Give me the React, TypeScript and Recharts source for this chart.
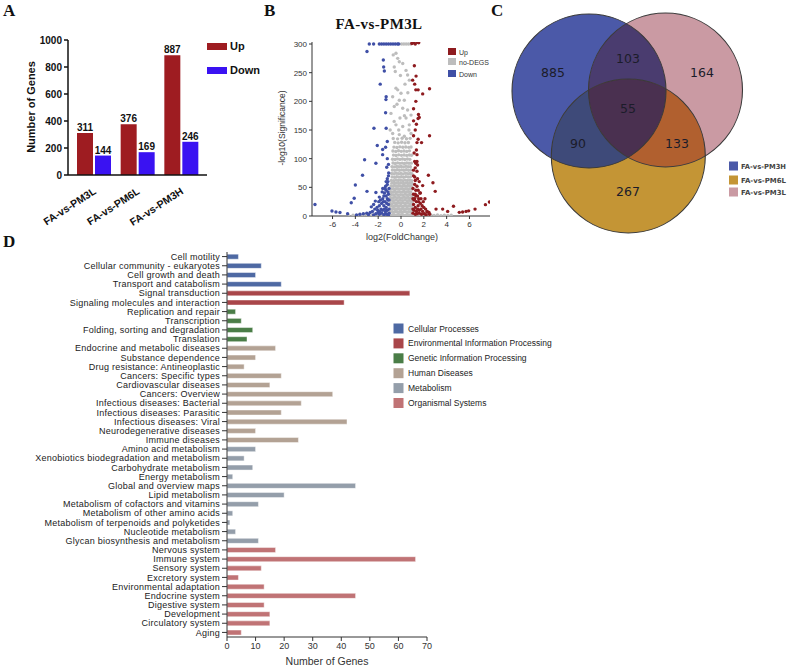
import React from 'react';
import { BarChart, Bar, XAxis, YAxis, LabelList, ScatterChart, Scatter, Cell } from 'recharts';

// ---------- Panel A data ----------
const groupNames = ['FA-vs-PM3L', 'FA-vs-PM6L', 'FA-vs-PM3H'];
const upCounts = [311, 376, 887];
const downCounts = [144, 169, 246];
const countTicks = [0, 200, 400, 600, 800, 1000];

// ---------- Panel B data (log2FC, -log10 p) ----------
const volcanoDown: [number, number][] = [
  [-2.78, 300], [-2.4, 300], [-1.9, 300], [-1.7, 300], [-1.5, 300], [-1.3, 300], [-1.1, 300], [-0.9, 300], [-0.7, 300], [-0.5, 300], [-0.3, 300], [-0.2, 300],
  [-2.98, 287], [-1.55, 272], [-1.52, 260], [-1.46, 253], [-1.82, 230], [-1.3, 208], [-1.32, 203], [-1.35, 180], [-2.37, 153], [-1.3, 153],
  [-2.08, 123], [-1.61, 116], [-1.61, 107], [-3.19, 98], [-2.2, 92], [-3.37, 71], [-4.0, 54], [-2.98, 43], [-2.2, 41], [-4.1, 31], [-4.36, 23],
  [-7.54, 20], [-6.05, 8.7], [-5.7, 7], [-5.35, 6], [-4.68, 4],
  [-1.05, 5], [-1.2, 10], [-1.3, 15], [-1.1, 20], [-1.4, 25], [-1.2, 30], [-1.5, 35], [-1.6, 30], [-1.8, 28], [-1.1, 38], [-1.3, 45], [-1.2, 55],
  [-1.15, 60], [-1.05, 48], [-1.7, 22], [-1.9, 18], [-2.1, 15], [-2.3, 12], [-2.5, 8], [-2.7, 6], [-3.0, 5], [-3.3, 4], [-2.0, 6], [-1.6, 10],
  [-1.4, 4], [-1.9, 3], [-2.2, 4], [-1.5, 18], [-1.25, 3], [-1.35, 8], [-1.75, 12], [-1.45, 12], [-1.05, 12], [-1.15, 28], [-1.3, 35], [-1.55, 25],
  [-2.4, 20], [-2.6, 16], [-1.95, 25], [-1.65, 42], [-1.1, 70], [-1.2, 100], [-1.25, 85], [-1.08, 75], [-1.85, 8], [-2.05, 10], [-1.7, 5],
  [-1.15, 42], [-1.4, 48], [-1.05, 28], [-1.25, 22], [-3.6, 3], [-3.9, 2], [-2.85, 2.5], [-1.5, 2], [-2.4, 2], [-1.1, 1], [-1.35, 52],
  [-1.2, 65], [-1.1, 90], [-1.35, 120], [-1.2, 130], [-1.6, 48], [-1.45, 40], [-1.9, 33], [-2.25, 26], [-1.3, 60],
];

const volcanoUp: [number, number][] = [
  [0.95, 301], [1.1, 302], [1.25, 300], [1.4, 303], [1.55, 302],
  [1.17, 262], [1.32, 244], [1.02, 237], [2.5, 222], [1.3, 220], [1.5, 220], [1.9, 213], [1.1, 187], [1.53, 177], [1.6, 172], [1.1, 166],
  [2.5, 140], [1.5, 134], [1.4, 128], [1.8, 128], [1.4, 107], [1.2, 95], [1.3, 92], [1.45, 89], [1.25, 84], [1.4, 78], [2.4, 71], [1.2, 68],
  [1.6, 60], [2.8, 58], [3.0, 43], [1.9, 53],
  [2.28, 7], [2.45, 6], [3.07, 12], [3.65, 12], [4.09, 8], [4.6, 17], [5.11, 6.4], [5.4, 7], [5.7, 8], [5.93, 9], [6.49, 12], [7.4, 19.8], [7.75, 24.4],
  [1.05, 5], [1.15, 10], [1.25, 15], [1.1, 20], [1.35, 25], [1.2, 30], [1.45, 35], [1.55, 30], [1.7, 22], [1.1, 38], [1.3, 45], [1.2, 55],
  [1.05, 48], [1.85, 18], [2.0, 15], [2.15, 12], [2.3, 8], [1.6, 10], [1.4, 4], [1.8, 3], [2.05, 4], [1.5, 18], [1.25, 3], [1.35, 8],
  [1.75, 12], [1.45, 12], [1.05, 12], [1.15, 28], [1.3, 35], [1.55, 25], [1.95, 25], [1.65, 40], [1.1, 70], [1.25, 62], [1.1, 80],
  [1.5, 45], [1.4, 52], [1.6, 5], [1.9, 8], [2.2, 2], [2.5, 3], [1.05, 30], [1.25, 38], [1.75, 30], [1.15, 110], [1.35, 115],
  [1.1, 140], [1.25, 150], [1.4, 95], [1.35, 160], [1.5, 170], [1.3, 200], [1.2, 230], [1.7, 40], [2.1, 30], [1.45, 65],
];

const volcanoNoDiff: [number, number][] = [
  [-4.6, 0.8], [-4.2, 1.5], [-3.9, 0.6], [-3.6, 2.1], [-3.3, 1.0], [-3.0, 2.8], [-2.8, 0.7], [-2.5, 1.9], [-2.2, 3.2], [-1.9, 1.1], [-1.6, 2.4],
  [-1.3, 0.9], [-1.1, 3.5], [1.1, 1.4], [1.4, 3.0], [1.7, 0.8], [2.0, 2.2], [2.3, 1.2], [2.6, 2.9], [2.9, 0.9], [3.2, 1.8], [3.5, 0.7],
  [3.8, 1.6], [4.1, 0.9], [4.4, 1.2],
  [-0.97, 2], [-0.78, 1.5], [-0.6, 2.4], [-0.41, 1.2], [-0.22, 2.6], [-0.03, 1.8], [0.16, 2.3], [0.35, 1.1], [0.55, 2.7], [0.74, 1.6], [0.93, 2.2],
  [-0.92, 7.3], [-0.71, 6.5], [-0.52, 7.8], [-0.33, 6.9], [-0.12, 7.5], [0.08, 6.6], [0.27, 7.9], [0.46, 6.8], [0.66, 7.4], [0.86, 6.7], [0.98, 8.1],
  [-0.95, 12.4], [-0.76, 11.6], [-0.57, 12.9], [-0.38, 11.8], [-0.18, 12.6], [0.02, 11.4], [0.21, 12.8], [0.41, 11.9], [0.6, 12.5], [0.8, 11.7], [0.97, 12.2],
  [-0.9, 17.2], [-0.69, 16.5], [-0.49, 17.8], [-0.29, 16.9], [-0.09, 17.4], [0.12, 16.7], [0.31, 17.9], [0.51, 16.6], [0.7, 17.3], [0.9, 16.8],
  [-0.96, 22.1], [-0.77, 21.6], [-0.58, 22.8], [-0.39, 21.9], [-0.2, 22.5], [0.0, 21.7], [0.19, 22.9], [0.39, 21.8], [0.58, 22.4], [0.78, 21.5], [0.96, 22.6],
  [-0.88, 27.3], [-0.67, 26.6], [-0.47, 27.7], [-0.27, 26.8], [-0.07, 27.5], [0.13, 26.9], [0.33, 27.8], [0.53, 26.7], [0.72, 27.2], [0.92, 26.5],
  [-0.94, 32.2], [-0.74, 31.5], [-0.55, 32.7], [-0.35, 31.8], [-0.16, 32.4], [0.04, 31.6], [0.24, 32.8], [0.43, 31.9], [0.63, 32.3], [0.82, 31.7], [0.98, 32.6],
  [-0.86, 37.4], [-0.65, 36.6], [-0.45, 37.8], [-0.25, 36.9], [-0.05, 37.3], [0.15, 36.7], [0.35, 37.9], [0.55, 36.8], [0.75, 37.5], [0.94, 36.6],
  [-0.92, 42.2], [-0.72, 41.6], [-0.52, 42.7], [-0.32, 41.8], [-0.13, 42.5], [0.07, 41.7], [0.27, 42.8], [0.47, 41.9], [0.66, 42.4], [0.86, 41.6],
  [-0.83, 47.3], [-0.62, 46.7], [-0.42, 47.8], [-0.22, 46.9], [-0.02, 47.4], [0.18, 46.6], [0.38, 47.7], [0.58, 46.8], [0.78, 47.2], [0.96, 46.9],
  [-0.88, 52.2], [-0.68, 51.7], [-0.48, 52.6], [-0.28, 51.8], [-0.08, 52.4], [0.12, 51.6], [0.32, 52.7], [0.52, 51.9], [0.71, 52.3], [0.9, 51.8],
  [-0.8, 57.3], [-0.6, 56.7], [-0.4, 57.6], [-0.2, 56.9], [0.0, 57.4], [0.2, 56.8], [0.4, 57.7], [0.6, 56.6], [0.8, 57.2], [0.97, 56.9],
  [-0.85, 62.1], [-0.64, 61.6], [-0.44, 62.7], [-0.24, 61.8], [-0.04, 62.3], [0.16, 61.7], [0.36, 62.6], [0.56, 61.9], [0.76, 62.4], [0.94, 61.6],
  [-0.78, 68.2], [-0.57, 67.5], [-0.37, 68.6], [-0.17, 67.8], [0.03, 68.4], [0.23, 67.6], [0.43, 68.7], [0.63, 67.9], [0.83, 68.3],
  [-0.82, 74.1], [-0.61, 73.6], [-0.41, 74.5], [-0.21, 73.8], [-0.01, 74.3], [0.19, 73.5], [0.39, 74.6], [0.59, 73.9], [0.79, 74.2], [0.95, 73.7],
  [-0.75, 80.3], [-0.54, 79.6], [-0.34, 80.7], [-0.14, 79.9], [0.06, 80.4], [0.26, 79.7], [0.46, 80.6], [0.66, 79.8], [0.86, 80.2],
  [-0.79, 86.2], [-0.58, 85.6], [-0.38, 86.5], [-0.18, 85.8], [0.02, 86.3], [0.22, 85.7], [0.42, 86.6], [0.62, 85.9], [0.82, 86.1],
  [-0.7, 92.4], [-0.5, 91.6], [-0.3, 92.6], [-0.1, 91.8], [0.1, 92.3], [0.3, 91.7], [0.5, 92.5], [0.7, 91.9], [0.9, 92.2],
  [-0.74, 99.1], [-0.52, 98.5], [-0.31, 99.6], [-0.09, 98.7], [0.13, 99.4], [0.34, 98.6], [0.56, 99.5], [0.77, 98.8],
  [-0.66, 106.2], [-0.43, 105.6], [-0.2, 106.7], [0.04, 105.8], [0.27, 106.4], [0.5, 105.7], [0.73, 106.5], [0.92, 105.9],
  [-0.71, 113.3], [-0.46, 112.6], [-0.22, 113.7], [0.02, 112.8], [0.26, 113.4], [0.5, 112.7], [0.74, 113.6],
  [-0.62, 120.2], [-0.36, 119.5], [-0.1, 120.6], [0.16, 119.8], [0.42, 120.4], [0.68, 119.7], [0.88, 120.3],
  [-0.55, 128.4], [-0.25, 127.6], [0.05, 128.7], [0.35, 127.8], [0.65, 128.3],
  [-0.68, 135.2], [-0.3, 134.6], [0.1, 135.7], [0.48, 134.8], [0.8, 135.4],
  [-0.68, 281], [-0.44, 284], [-0.29, 275], [-0.15, 269], [-0.59, 260], [0.15, 266], [-0.5, 252], [0.44, 254], [0.58, 246], [-0.44, 223],
  [-0.29, 220], [0.0, 214], [-0.73, 208], [-0.15, 202], [0.29, 202], [0.73, 237], [-0.59, 191], [0.15, 188], [0.58, 185], [-0.88, 179],
  [-0.09, 171], [0.44, 171], [0.88, 176], [-0.44, 159], [0.15, 156], [0.73, 159], [-0.73, 144], [-0.15, 142], [0.29, 139], [0.88, 144],
  [0.05, 300], [0.25, 300], [0.45, 300], [0.65, 300], [0.85, 300], [0.35, 230], [-0.05, 245], [-0.35, 195], [0.6, 215], [-0.6, 165],
  [0.3, 175], [0.7, 150], [-0.95, 150], [-0.2, 150],
];
const fcTicks = [-6, -4, -2, 0, 2, 4, 6];
const sigTicks = [0, 50, 100, 150, 200, 250, 300];

// ---------- Panel C data ----------
const vennSetNames = ['FA-vs-PM3H', 'FA-vs-PM6L', 'FA-vs-PM3L'];
const vennSetKeys = ['pm3h', 'pm6l', 'pm3l'];
const vennSetColors = ['#4b59a8', '#c49535', '#ca9aa3'];
const vennRegionCounts = [885, 103, 164, 55, 90, 133, 267];

// ---------- Panel D data ----------
const keggTerms = [
  'Cell motility', 'Cellular community - eukaryotes', 'Cell growth and death', 'Transport and catabolism',
  'Signal transduction', 'Signaling molecules and interaction',
  'Replication and repair', 'Transcription', 'Folding, sorting and degradation', 'Translation',
  'Endocrine and metabolic diseases', 'Substance dependence', 'Drug resistance: Antineoplastic', 'Cancers: Specific types',
  'Cardiovascular diseases', 'Cancers: Overview', 'Infectious diseases: Bacterial', 'Infectious diseases: Parasitic',
  'Infectious diseases: Viral', 'Neurodegenerative diseases', 'Immune diseases',
  'Amino acid metabolism', 'Xenobiotics biodegradation and metabolism', 'Carbohydrate metabolism', 'Energy metabolism',
  'Global and overview maps', 'Lipid metabolism', 'Metabolism of cofactors and vitamins', 'Metabolism of other amino acids',
  'Metabolism of terpenoids and polyketides', 'Nucleotide metabolism', 'Glycan biosynthesis and metabolism',
  'Nervous system', 'Immune system', 'Sensory system', 'Excretory system', 'Environmental adaptation', 'Endocrine system',
  'Digestive system', 'Development', 'Circulatory system', 'Aging',
];
const keggCounts = [
  4, 12, 10, 19,
  64, 41,
  3, 5, 9, 7,
  17, 10, 6, 19, 15, 37, 26, 19, 42, 10, 25,
  10, 6, 9, 2, 45, 20, 11, 2, 1, 3, 11,
  17, 66, 12, 4, 13, 45, 13, 15, 15, 5,
];
const keggClassIndex = [
  0, 0, 0, 0,
  1, 1,
  2, 2, 2, 2,
  3, 3, 3, 3, 3, 3, 3, 3, 3, 3, 3,
  4, 4, 4, 4, 4, 4, 4, 4, 4, 4, 4,
  5, 5, 5, 5, 5, 5, 5, 5, 5, 5,
];
const keggClassNames = [
  'Cellular Processes', 'Environmental Information Processing', 'Genetic Information Processing',
  'Human Diseases', 'Metabolism', 'Organismal Systems',
];
const keggClassColors = ['#4e69a3', '#a9464a', '#4a7d47', '#b3a294', '#949eaa', '#c07375'];
const keggTicks = [0, 10, 20, 30, 40, 50, 60, 70];

// ---------- layout constants ----------
const SANS = '"Liberation Sans", Arial, sans-serif';
const SERIF = '"Liberation Serif", "Times New Roman", serif';
const VERDANA = '"DejaVu Sans", Verdana, sans-serif';
const VENN_W = 250;
const VENN_H = 240;
const VENN_R = 77;
const vennLayout: Record<string, { x: number; y: number }> = {
  pm3h: { x: 89, y: 91 },
  pm3l: { x: 165.5, y: 90 },
  pm6l: { x: 128.3, y: 156 },
};
const vennLabelLayout = [
  { x: 53, y: 72 }, { x: 128, y: 58 }, { x: 202, y: 72 }, { x: 128, y: 108 },
  { x: 78, y: 143 }, { x: 177, y: 143 }, { x: 128, y: 191 },
];

// ---------- derived tables ----------
const dataA = groupNames.map((name, i) => ({ name, up: upCounts[i], down: downCounts[i] }));
const toPts = (arr: [number, number][]) => arr.map(([x, y]) => ({ x, y }));
const upPts = toPts(volcanoUp);
const downPts = toPts(volcanoDown);
const noPts = toPts(volcanoNoDiff);

const vennSets = vennSetKeys.map((k, i) => ({ key: k, name: vennSetNames[i], color: vennSetColors[i], ...vennLayout[k] }));
const vennPairs = [
  { ...vennLayout.pm3l, clip: 'pm3h', color: '#4a3c6f' },
  { ...vennLayout.pm6l, clip: 'pm3h', color: '#3e4a79' },
  { ...vennLayout.pm6l, clip: 'pm3l', color: '#b1602f' },
];
const vennTriple = [{ ...vennLayout.pm6l, clip1: 'pm3h', clip2: 'pm3l', color: '#4a3050' }];
const vennLabels = vennRegionCounts.map((c, i) => ({ ...vennLabelLayout[i], label: String(c) }));

const dataD = keggTerms.map((term, i) => ({ term, count: keggCounts[i], cls: keggClassIndex[i] }));

const rPx = VENN_R * (VENN_W / 250);

const RotTick = (p: any) => {
  const x = p.x + 3;
  const y = p.y + 10;
  return (
    <text x={x} y={y} transform={`rotate(-33, ${x}, ${y})`} textAnchor="end" fontSize={10.5} fontWeight="bold" fill="#111" fontFamily={SANS}>
      {p.payload.value}
    </text>
  );
};

const KeggTick = (p: any) => (
  <text x={p.x} y={p.y} dy={3.2} textAnchor="end" fontSize={9} letterSpacing={0.25} fill="#222" fontFamily={SANS}>
    {p.payload.value}
  </text>
);

const dot = (color: string) => (p: any) => <circle cx={p.cx} cy={p.cy} r={1.7} fill={color} />;

export default function App() {
  return (
    <div style={{ position: 'absolute', left: 0, top: 0, width: 789, height: 667, background: '#fff', fontFamily: SANS, overflow: 'hidden' }}>
      {/* Panel A */}
      <div style={{ position: 'absolute', left: 0, top: 0 }}>
        <BarChart width={240} height={230} data={dataA} margin={{ top: 40, right: 33, bottom: 0, left: 0 }} barGap={2} barSize={16}>
          <XAxis dataKey="name" height={55} interval={0} tick={(p: any) => <RotTick {...p} />} tickLine={false}
            axisLine={{ stroke: '#111', strokeWidth: 1.5 }} padding={{ left: 4, right: 4 }} />
          <YAxis width={68} domain={[0, 1000]} ticks={countTicks} interval={0} tickSize={4}
            tick={{ fontSize: 10, fontWeight: 'bold', fill: '#111' }}
            axisLine={{ stroke: '#111', strokeWidth: 1.5 }} tickLine={{ stroke: '#111', strokeWidth: 1.5 }} />
          <Bar dataKey="up" fill="#9e1c21" isAnimationActive={false}>
            <LabelList dataKey="up" position="top" offset={2} fontSize={10} fontWeight="bold" fill="#111" />
          </Bar>
          <Bar dataKey="down" fill="#3a12f2" isAnimationActive={false}>
            <LabelList dataKey="down" position="top" offset={2} fontSize={10} fontWeight="bold" fill="#111" />
          </Bar>
        </BarChart>
      </div>

      {/* Panel B */}
      <div style={{ position: 'absolute', left: 260, top: 30 }}>
        <ScatterChart width={240} height={206} margin={{ top: 12, right: 10, bottom: 0, left: 0 }}>
          <XAxis type="number" dataKey="x" domain={[-7.8, 7.8]} ticks={fcTicks} height={20} tickSize={3}
            tick={{ fontSize: 8, fill: '#333' }} axisLine={{ stroke: '#333' }} tickLine={{ stroke: '#333' }} allowDataOverflow />
          <YAxis type="number" dataKey="y" domain={[0, 303.5]} ticks={sigTicks} width={52} tickSize={3}
            tick={{ fontSize: 8, fill: '#333' }} axisLine={{ stroke: '#333' }} tickLine={{ stroke: '#333' }} allowDataOverflow />
          <Scatter data={noPts} shape={dot('#bdbdbd')} isAnimationActive={false} />
          <Scatter data={downPts} shape={dot('#3f4fa6')} isAnimationActive={false} />
          <Scatter data={upPts} shape={dot('#8e1b1f')} isAnimationActive={false} />
        </ScatterChart>
      </div>

      {/* Panel C */}
      <div style={{ position: 'absolute', left: 500, top: 0 }}>
        <ScatterChart width={VENN_W} height={VENN_H} margin={{ top: 0, right: 0, bottom: 0, left: 0 }}>
          <XAxis type="number" dataKey="x" domain={[0, VENN_W]} hide />
          <YAxis type="number" dataKey="y" domain={[0, VENN_H]} reversed hide />
          <Scatter data={vennSets} isAnimationActive={false} shape={(p: any) => (
            <g>
              <defs>
                <clipPath id={`venn-clip-${p.payload.key}`}>
                  <circle cx={p.cx} cy={p.cy} r={rPx} />
                </clipPath>
              </defs>
              <circle cx={p.cx} cy={p.cy} r={rPx} fill={p.payload.color} />
            </g>
          )} />
          <Scatter data={vennPairs} isAnimationActive={false} shape={(p: any) => (
            <circle cx={p.cx} cy={p.cy} r={rPx} fill={p.payload.color} clipPath={`url(#venn-clip-${p.payload.clip})`} />
          )} />
          <Scatter data={vennTriple} isAnimationActive={false} shape={(p: any) => (
            <g clipPath={`url(#venn-clip-${p.payload.clip1})`}>
              <circle cx={p.cx} cy={p.cy} r={rPx} fill={p.payload.color} clipPath={`url(#venn-clip-${p.payload.clip2})`} />
            </g>
          )} />
          <Scatter data={vennSets} isAnimationActive={false} shape={(p: any) => (
            <circle cx={p.cx} cy={p.cy} r={rPx} fill="none" stroke="#3a3a3a" strokeWidth={1.1} />
          )} />
          <Scatter data={vennLabels} isAnimationActive={false} shape={(p: any) => (
            <text x={p.cx} y={p.cy} dy={4.5} textAnchor="middle" fontSize={12.5} fill="#1c1c2a" fontFamily={VERDANA}>
              {p.payload.label}
            </text>
          )} />
        </ScatterChart>
      </div>

      {/* Panel D */}
      <div style={{ position: 'absolute', left: 0, top: 230 }}>
        <BarChart layout="vertical" width={440} height={437} data={dataD} margin={{ top: 22, right: 13, bottom: 0, left: 0 }} barCategoryGap="24%">
          <XAxis type="number" domain={[0, 70]} ticks={keggTicks} height={30} tickSize={4} interval={0}
            tick={{ fontSize: 9, fill: '#333' }} axisLine={{ stroke: '#333' }} tickLine={{ stroke: '#333' }} />
          <YAxis type="category" dataKey="term" width={227} interval={0} tickSize={5}
            tick={(p: any) => <KeggTick {...p} />} axisLine={{ stroke: '#333' }} tickLine={{ stroke: '#333' }} />
          <Bar dataKey="count" isAnimationActive={false} stroke="#ffffff" strokeOpacity={0.55} strokeWidth={0.8}>
            {dataD.map((d, i) => <Cell key={i} fill={keggClassColors[d.cls]} />)}
          </Bar>
        </BarChart>
      </div>

      {/* Text overlay: panel letters, titles, axis titles, legends */}
      <svg width={789} height={667} style={{ position: 'absolute', left: 0, top: 0, pointerEvents: 'none' }}>
        <g fontFamily={SERIF} fontWeight="bold" fontSize={17} fill="#111">
          <text x={3} y={16}>A</text>
          <text x={264} y={16}>B</text>
          <text x={491} y={16}>C</text>
          <text x={3} y={247}>D</text>
        </g>
        {/* Panel A */}
        <text transform="translate(35,107) rotate(-90)" textAnchor="middle" fontSize={11} fontWeight="bold" fill="#111">Number of Genes</text>
        <rect x={207} y={43} width={20} height={7} fill="#9e1c21" />
        <text x={230} y={50} fontSize={11} fontWeight="bold" fill="#111">Up</text>
        <rect x={207} y={67} width={20} height={7} fill="#3a12f2" />
        <text x={230} y={74} fontSize={11} fontWeight="bold" fill="#111">Down</text>
        {/* Panel B */}
        <text x={379} y={29} textAnchor="middle" fontFamily={SERIF} fontWeight="bold" fontSize={15} letterSpacing={0.4} fill="#111">FA-vs-PM3L</text>
        <text transform="translate(285,128) rotate(-90)" textAnchor="middle" fontSize={8.5} fill="#333">-log10(Significance)</text>
        <text x={402} y={240} textAnchor="middle" fontSize={9} fill="#333">log2(FoldChange)</text>
        <rect x={448} y={48} width={8} height={7} fill="#8e1b1f" />
        <text x={459} y={54.5} fontSize={7} fill="#333">Up</text>
        <rect x={448} y={58} width={8} height={7} fill="#bdbdbd" />
        <text x={459} y={64.5} fontSize={7} fill="#333">no-DEGS</text>
        <rect x={448} y={70} width={8} height={7} fill="#3f4fa6" />
        <text x={459} y={76.5} fontSize={7} fill="#333">Down</text>
        {/* Panel C legend */}
        {vennSetNames.map((n, i) => (
          <g key={n}>
            <rect x={729} y={[161.5, 175.5, 187.5][i]} width={9} height={9} fill={vennSetColors[i]} />
            <text x={741} y={[169, 183, 195][i]} fontSize={7} fontWeight="bold" fill="#444" fontFamily={VERDANA}
              textLength={45} lengthAdjust="spacingAndGlyphs">{n}</text>
          </g>
        ))}
        {/* Panel D */}
        <text x={327} y={665} textAnchor="middle" fontSize={10.5} fill="#333">Number of Genes</text>
        {keggClassNames.map((n, i) => (
          <g key={n}>
            <rect x={393.5} y={323.5 + i * 14.9} width={10} height={10} fill={keggClassColors[i]} />
            <text x={408} y={331.5 + i * 14.9} fontSize={8.5} fill="#222">{n}</text>
          </g>
        ))}
      </svg>
    </div>
  );
}
